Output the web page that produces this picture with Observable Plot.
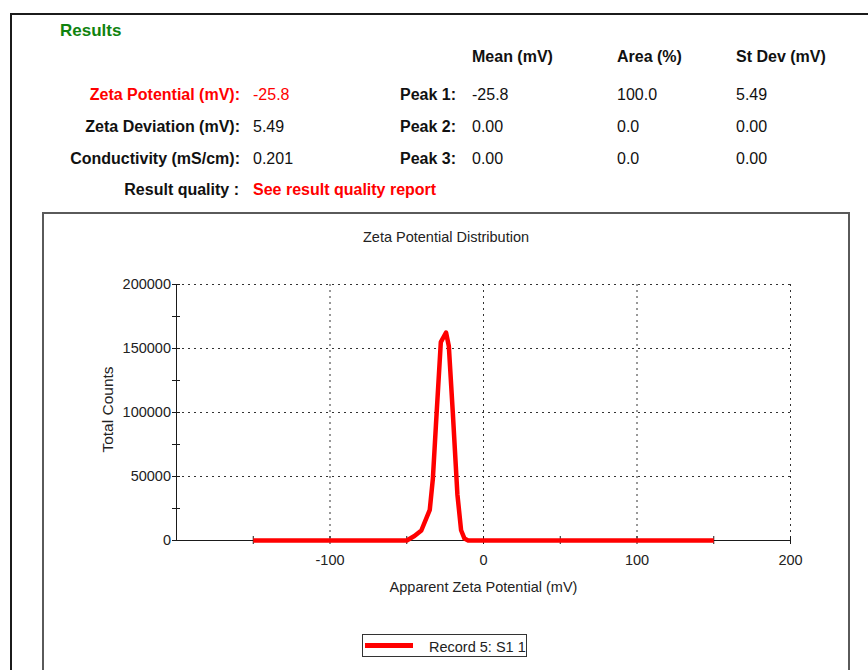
<!DOCTYPE html>
<html>
<head>
<meta charset="utf-8">
<script src="https://cdn.jsdelivr.net/npm/d3@7"></script>
<script src="https://cdn.jsdelivr.net/npm/@observablehq/plot@0.6"></script>
<style>
  html, body { margin: 0; padding: 0; background: #fff; }
  body { width: 868px; height: 670px; position: relative; overflow: hidden;
         font-family: "Liberation Sans", Arial, sans-serif; }
  .t { position: absolute; white-space: nowrap; }
  #outer { position: absolute; left: 10px; top: 13px; width: 900px; height: 700px;
           border-left: 2px solid #1b1b1b; border-top: 2px solid #1b1b1b; }
  #panel { position: absolute; left: 42px; top: 212px; width: 804px; height: 500px;
           border: 2px solid #5a5a5a; }
  #chart { position: absolute; left: 44px; top: 260px; }
  #legend { position: absolute; left: 362px; top: 634px; width: 165px; height: 23px;
            box-sizing: border-box; border: 1.5px solid #333; background: #fff; }
  #legend .swatch { position: absolute; left: 2px; top: 7.5px; width: 48px; height: 5px; }
</style>
</head>
<body>
<div id="outer"></div>
<div id="panel"></div>
<div id="chart"></div>
<div id="legend"><div class="swatch"></div></div>
<script>
// ---- Results table ----
const sectionTitle = "Results";
const columnHeaders = ["Mean (mV)", "Area (%)", "St Dev (mV)"];
const summaryLabels = ["Zeta Potential (mV):", "Zeta Deviation (mV):", "Conductivity (mS/cm):"];
const summaryValues = ["-25.8", "5.49", "0.201"];
const peakLabels = ["Peak 1:", "Peak 2:", "Peak 3:"];
const peakMeans = ["-25.8", "0.00", "0.00"];
const peakAreas = ["100.0", "0.0", "0.0"];
const peakStdDevs = ["5.49", "0.00", "0.00"];
const qualityLabel = "Result quality :";
const qualityValue = "See result quality report";

// ---- Zeta potential distribution ----
const chartTitle = "Zeta Potential Distribution";
const xLabel = "Apparent Zeta Potential (mV)";
const yLabel = "Total Counts";
const seriesName = "Record 5: S1 1";
const zeta =   [-150, -50, -45, -40.5, -35, -33, -31, -27.8, -24.4, -22.6, -20, -17, -14.6, -12.4, -10, 150];
const counts = [   0,   0, 3500, 7800, 24000, 48000, 90000, 155000, 162500, 152000, 100000, 36000, 8000, 1500, 0, 0];
const xDomain = [-200, 200];
const yDomain = [0, 200000];
const xTickLabels = [-100, 0, 100, 200];
const xMinorTicks = [-150, -100, -50, 0, 50, 100, 150, 200];
const yTickLabels = [0, 50000, 100000, 150000, 200000];
const yMinorTicks = [0, 25000, 50000, 75000, 100000, 125000, 150000, 175000, 200000];
const xGrid = [-100, 0, 100, 200];
const yGrid = [50000, 100000, 150000, 200000];

const RED = "#ff0000";
const W = 868;

// place a line of text by its baseline
function place(text, x, baseline, {size = 16, weight = "normal", color = "#111", align = "left"} = {}) {
  const el = document.createElement("div");
  el.className = "t";
  el.textContent = text;
  el.style.fontSize = size + "px";
  el.style.lineHeight = size + "px";
  el.style.fontWeight = weight;
  el.style.color = color;
  el.style.top = (baseline - 0.8465 * size) + "px";
  if (align === "left") el.style.left = x + "px";
  else if (align === "right") el.style.right = (W - x) + "px";
  else { el.style.left = x + "px"; el.style.transform = "translateX(-50%)"; }
  document.body.appendChild(el);
}

place(sectionTitle, 60, 36, {size: 17, weight: "bold", color: "#10830f"});
const colX = [472, 617, 736];
columnHeaders.forEach((h, i) => place(h, colX[i], 62.7, {weight: "bold"}));
const rowBase = [100.7, 132.7, 164.7];
summaryLabels.forEach((l, i) => {
  const c = i === 0 ? RED : "#111";
  place(l, 240, rowBase[i], {weight: "bold", color: c, align: "right"});
  place(summaryValues[i], 253, rowBase[i], {color: c});
  place(peakLabels[i], 456, rowBase[i], {weight: "bold", align: "right"});
  place(peakMeans[i], colX[0], rowBase[i]);
  place(peakAreas[i], colX[1], rowBase[i]);
  place(peakStdDevs[i], colX[2], rowBase[i]);
});
place(qualityLabel, 239, 195.7, {weight: "bold", align: "right"});
place(qualityValue, 253, 195.7, {weight: "bold", color: RED});

place(chartTitle, 446, 242, {size: 14.5, color: "#222", align: "center"});

// legend
document.querySelector("#legend .swatch").style.background = RED;
place(seriesName, 429, 652, {size: 14.5, color: "#222"});

const dist = zeta.map((z, i) => ({zeta: z, counts: counts[i]}));
const font = '"Liberation Sans", Arial, sans-serif';
const ink = "#1a1a1a";

const chart = Plot.plot({
  width: 800,
  height: 340,
  marginLeft: 132,
  marginRight: 54,
  marginTop: 24,
  marginBottom: 60,
  style: {fontFamily: font, fontSize: "14.5px", color: "#222", background: "transparent", overflow: "visible"},
  x: {domain: xDomain},
  y: {domain: yDomain},
  marks: [
    Plot.gridY(yGrid, {stroke: "#333", strokeOpacity: 1, strokeDasharray: "2,4"}),
    Plot.gridX(xGrid, {stroke: "#333", strokeOpacity: 1, strokeDasharray: "2,4"}),
    Plot.ruleY([yDomain[0]], {stroke: ink}),
    Plot.ruleX([xDomain[0]], {stroke: ink}),
    Plot.ruleX(xMinorTicks, {x: d => d, y1: yDomain[0], y2: yDomain[0], insetTop: -4, insetBottom: -4, stroke: ink}),
    Plot.ruleY(yMinorTicks, {y: d => d, x1: xDomain[0], x2: xDomain[0], insetLeft: -4, insetRight: -4, stroke: ink}),
    Plot.axisX(xTickLabels, {tickSize: 0, tickPadding: 14, tickFormat: d => String(d), label: null, fontSize: 14.5}),
    Plot.axisY(yTickLabels, {tickSize: 0, tickPadding: 5.5, tickFormat: d => String(d), label: null, fontSize: 14.5}),
    Plot.line(dist, {x: "zeta", y: "counts", stroke: RED, strokeWidth: 4.5, strokeLinejoin: "round", strokeLinecap: "butt"}),
    Plot.text([xLabel], {frameAnchor: "bottom", dy: 51, lineAnchor: "bottom", fontSize: 14.5}),
    Plot.text([yLabel], {frameAnchor: "left", textAnchor: "middle", rotate: -90, dx: -68.5, dy: -3, fontSize: 15.5})
  ]
});
document.getElementById("chart").appendChild(chart);
</script>
</body>
</html>
